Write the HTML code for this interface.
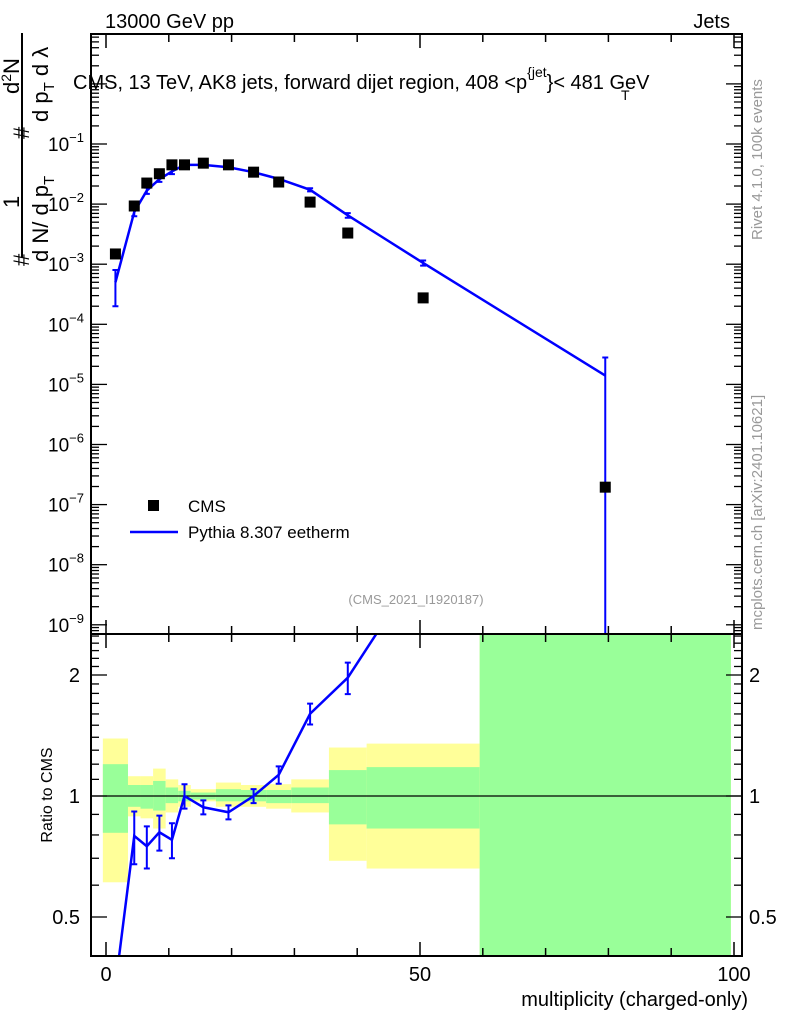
<!DOCTYPE html>
<html><head><meta charset="utf-8"><style>
body{margin:0;background:#fff;overflow:hidden}
svg{display:block;font-family:"Liberation Sans",sans-serif}
</style></head><body>
<svg id="c" width="786" height="1024" viewBox="0 0 786 1024">
<defs>
<clipPath id="cpTop"><rect x="91" y="34" width="651" height="600"/></clipPath>
<clipPath id="cpBot"><rect x="91" y="634" width="651" height="322"/></clipPath>
</defs>
<g id="bands" clip-path="url(#cpBot)"></g>
<g id="marks"></g>
<g id="axes"></g>
<text x="105" y="28" font-size="20">13000 GeV pp</text>
<text x="730" y="28" font-size="20" text-anchor="end">Jets</text>
<text x="73" y="89" font-size="20">CMS, 13 TeV, AK8 jets, forward dijet region, 408 &lt;p<tspan font-size="14" dy="-12">{jet</tspan><tspan dy="12" font-size="20">}&lt; 481 GeV</tspan></text>
<text x="621" y="100" font-size="14">T</text>
<g font-size="22">
<line x1="22" y1="33" x2="22" y2="258" stroke="#000" stroke-width="2"/>
<text transform="translate(19,94) rotate(-90)">d<tspan font-size="14" dy="-8">2</tspan><tspan dy="8">N</tspan></text>
<text transform="translate(19,208) rotate(-90)">1</text>
<text transform="translate(29,266) rotate(-90)">#</text>
<text transform="translate(29,139) rotate(-90)">#</text>
<text transform="translate(48,262) rotate(-90)">d N/  d p<tspan font-size="15" dy="6">T</tspan></text>
<text transform="translate(48,122) rotate(-90)">d p<tspan font-size="15" dy="6">T</tspan><tspan dy="-6">  d λ</tspan></text>
</g>
<text transform="translate(52,795) rotate(-90)" font-size="16" text-anchor="middle">Ratio to CMS</text>
<text x="748" y="1006" font-size="20" text-anchor="end">multiplicity (charged-only)</text>
<text transform="translate(762,240) rotate(-90)" font-size="15" fill="#999">Rivet 4.1.0,  100k events</text>
<text transform="translate(762,630) rotate(-90)" font-size="15" fill="#999">mcplots.cern.ch [arXiv:2401.10621]</text>
<text x="416" y="604" font-size="13" fill="#999" text-anchor="middle">(CMS_2021_I1920187)</text>
<g>
<rect x="148" y="500" width="11" height="11" fill="#000"/>
<text x="188" y="512" font-size="17">CMS</text>
<line x1="130" y1="532" x2="178" y2="532" stroke="#00f" stroke-width="2.5"/>
<text x="188" y="538" font-size="17">Pythia 8.307 eetherm</text>
</g>
</svg>
<script>
const binEdges=[-0.5,3.5,5.5,7.5,9.5,11.5,13.5,17.5,21.5,25.5,29.5,35.5,41.5,59.5,99.5];
const cmsValues=[1.48e-3,9.3e-3,2.24e-2,3.2e-2,4.5e-2,4.5e-2,4.8e-2,4.5e-2,3.4e-2,2.33e-2,1.08e-2,3.3e-3,2.75e-4,1.95e-7];
const mcValues=[5e-4,7.4e-3,1.68e-2,2.6e-2,3.5e-2,4.5e-2,4.5e-2,4.1e-2,3.4e-2,2.63e-2,1.73e-2,6.5e-3,1.05e-3,1.4e-5];
const mcRelErr=[0.6,0.15,0.12,0.1,0.1,0.07,0.04,0.04,0.04,0.05,0.06,0.09,0.1,1.0];
const yellowHi=[1.39,1.12,1.12,1.17,1.10,1.065,1.04,1.08,1.065,1.07,1.10,1.32,1.35,3];
const yellowLo=[0.61,0.89,0.88,0.83,0.91,0.94,0.97,0.94,0.94,0.93,0.91,0.69,0.66,0.3];
const greenHi=[1.20,1.065,1.065,1.09,1.05,1.03,1.02,1.04,1.035,1.035,1.05,1.16,1.18,3];
const greenLo=[0.81,0.94,0.93,0.92,0.96,0.97,0.98,0.97,0.97,0.96,0.96,0.85,0.83,0.3];
const xTicksMajor=[0,50,100];
const yDecades=[-1,-2,-3,-4,-5,-6,-7,-8,-9];
const ratioLabels=[0.5,1,2];

const NS='http://www.w3.org/2000/svg';
const X=v=>106+v*6.28;
const Y=v=>144-(Math.log10(v)+1)*60.1;
const R=v=>796-Math.log2(v)*121;
function mk(tag,attrs,parent){const e=document.createElementNS(NS,tag);for(const k in attrs)e.setAttribute(k,attrs[k]);parent.appendChild(e);return e;}
const bands=document.getElementById('bands'),marks=document.getElementById('marks'),axes=document.getElementById('axes');
const centers=binEdges.slice(0,-1).map((e,i)=>(e+binEdges[i+1])/2);

for(let i=0;i<centers.length;i++){
  const x0=X(binEdges[i]),x1=X(binEdges[i+1]);
  const ry=mk('rect',{x:x0,y:R(yellowHi[i]),width:x1-x0,height:R(yellowLo[i])-R(yellowHi[i]),fill:'#ffff99'},bands);
  
  
  const rg=mk('rect',{x:x0,y:R(greenHi[i]),width:x1-x0,height:R(greenLo[i])-R(greenHi[i]),fill:'#99ff99'},bands);
  
  
}
const one=mk('line',{x1:91,x2:742,y1:R(1),y2:R(1),stroke:'#000','stroke-width':1.2},marks);



const gTop=mk('g',{'clip-path':'url(#cpTop)'},marks);
const gBot=mk('g',{'clip-path':'url(#cpBot)'},marks);
const pl=mk('polyline',{points:centers.map((c,i)=>X(c)+','+Y(mcValues[i])).join(' '),fill:'none',stroke:'#00f','stroke-width':2.5},gTop);


const ratios=mcValues.map((v,i)=>v/cmsValues[i]);
const rl=mk('polyline',{points:centers.map((c,i)=>X(c)+','+R(ratios[i])).join(' '),fill:'none',stroke:'#00f','stroke-width':2.5},gBot);


for(let i=0;i<centers.length;i++){
  const x=X(centers[i]);
  const lo=Math.max(mcValues[i]*(1-mcRelErr[i]),1e-12),hi=mcValues[i]*(1+mcRelErr[i]);
  const e=mk('path',{d:`M${x},${Y(lo)}V${Y(hi)}M${x-3},${Y(lo)}h6M${x-3},${Y(hi)}h6`,stroke:'#00f','stroke-width':2,fill:'none'},gTop);
  
  
  const yc=R(ratios[i]);
  if(yc>634&&yc<956){
    const rlo=Math.max(ratios[i]*(1-mcRelErr[i]),0.01),rhi=ratios[i]*(1+mcRelErr[i]);
    const e2=mk('path',{d:`M${x},${R(rlo)}V${R(rhi)}M${x-3},${R(rlo)}h6M${x-3},${R(rhi)}h6`,stroke:'#00f','stroke-width':2,fill:'none'},gBot);
    
    
  }
  const s=mk('rect',{x:x-5.5,y:Y(cmsValues[i])-5.5,width:11,height:11,fill:'#000'},gTop);
  
  
}
for(const [y0,y1] of [[34,634],[634,956]]){
  const f=mk('rect',{x:91,y:y0,width:651,height:y1-y0,fill:'none',stroke:'#000','stroke-width':2},axes);
  
  
}
for(let v=0;v<=100;v+=10){
  const maj=xTicksMajor.includes(v),L=maj?14:8,x=X(v);
  for(const [y,d] of [[34,1],[634,-1],[634,1],[956,-1]]){
    const t=mk('line',{x1:x,x2:x,y1:y,y2:y+d*L,stroke:'#000','stroke-width':1.5},axes);
    
    
  }
}
for(const v of xTicksMajor){
  const t=mk('text',{x:X(v),y:981,'font-size':20,'text-anchor':'middle'},axes);t.textContent=v;
  
  
}
for(let d=1;d>=-10;d--){
  for(let m=1;m<10;m++){
    const v=m*Math.pow(10,d),y=Y(v);
    if(y<34||y>634)continue;
    const L=m==1?16:8;
    for(const [x,s] of [[91,1],[742,-1]]){
      const t=mk('line',{x1:x,x2:x+s*L,y1:y,y2:y,stroke:'#000','stroke-width':1.3},axes);
      
      
    }
  }
}
for(const d of yDecades){
  const t=mk('text',{x:84,y:Y(Math.pow(10,d))+7,'font-size':19,'text-anchor':'end'},axes);
  t.innerHTML='10<tspan font-size="13" dy="-9">\u2212'+(-d)+'</tspan>';
  
  
}
const rt=[0.4,0.5,0.6,0.7,0.8,0.9,1,1.1,1.2,1.3,1.4,1.5,1.6,1.7,1.8,1.9,2,2.1,2.2,2.3,2.4,2.5];
for(const v of rt){
  const y=R(v);if(y<634||y>956)continue;
  const L=ratioLabels.includes(v)?16:8;
  for(const [x,s] of [[91,1],[742,-1]]){
    const t=mk('line',{x1:x,x2:x+s*L,y1:y,y2:y,stroke:'#000','stroke-width':1.3},axes);
    
    
  }
}
for(const v of ratioLabels){
  const t=mk('text',{x:80,y:R(v)+7,'font-size':20,'text-anchor':'end'},axes);t.textContent=v;
  
  
  const t2=mk('text',{x:749,y:R(v)+7,'font-size':20},axes);t2.textContent=v;
  
  
}
</script>
</body></html>
